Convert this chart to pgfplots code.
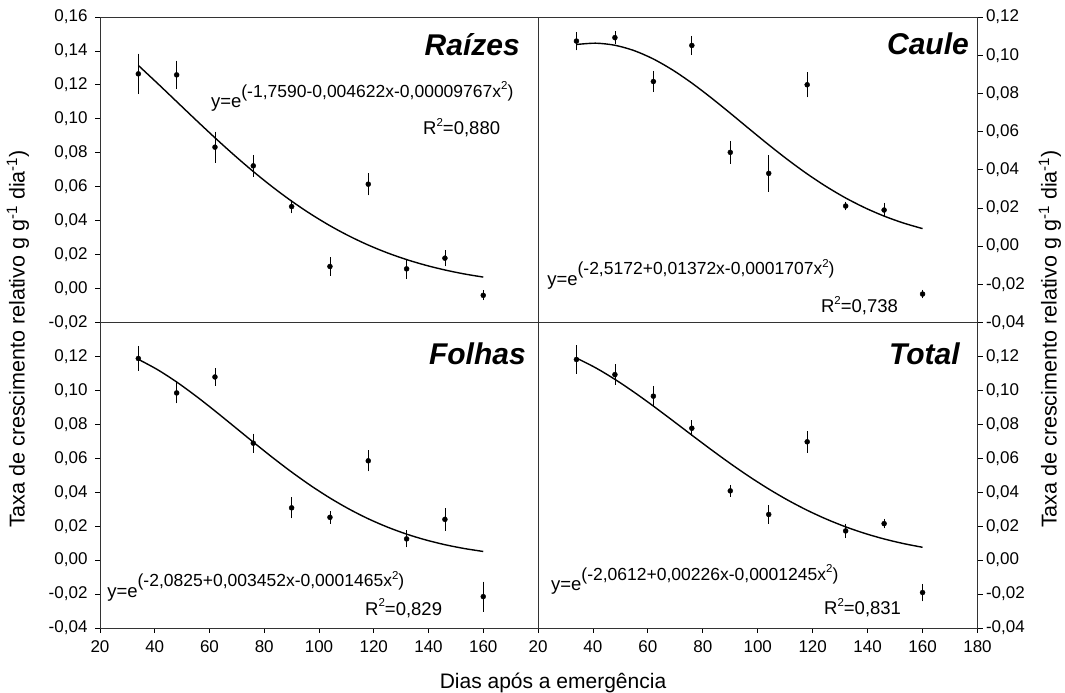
\documentclass[border=0pt]{standalone}
\usepackage{pgfplots}
\pgfplotsset{compat=1.18}
\usepackage{pgfplotstable}
\usepackage{fontspec}
\setmainfont{Liberation Sans}

\newcommand\tickfont{\fontsize{17}{19}\selectfont}
\newcommand\labfont{\fontsize{21.5}{24}\selectfont}
\newcommand\titfont{\fontsize{30}{34}\selectfont\bfseries\itshape}
\newcommand\eqfont{\fontsize{18.5}{21}\selectfont}
\newcommand\eqn[1]{y=e\raisebox{0.55em}{\fontsize{17.5}{19}\selectfont(#1)}}
\newcommand\sq{\raisebox{0.45em}{\fontsize{11.5}{13}\selectfont 2}}

% x, mean, error
\pgfplotstableread{
x y e
34 0.1265 0.0099
48 0.1259 0.0063
62 0.0833 0.0071
76 0.0723 0.0044
90 0.0483 0.0020
104 0.0130 0.0035
118 0.0615 0.0045
132 0.0116 0.0040
146 0.0179 0.0027
160 -0.0040 0.0008
}\raizes
\pgfplotstableread{
x y e
34 0.1074 0.0030
48 0.1092 0.0016
62 0.0862 0.0037
76 0.1051 0.0032
90 0.0491 0.0042
104 0.0381 0.0077
118 0.0845 0.0048
132 0.0210 0.0005
146 0.0189 0.0020
160 -0.0251 0.0005
}\caule
\pgfplotstableread{
x y e
34 0.1188 0.0053
48 0.0985 0.0041
62 0.1079 0.0031
76 0.0689 0.0036
90 0.0308 0.0041
104 0.0252 0.0016
118 0.0585 0.0041
132 0.0125 0.0030
146 0.0240 0.0045
160 -0.0215 0.0068
}\folhas
\pgfplotstableread{
x y e
34 0.1182 0.0062
48 0.1093 0.0039
62 0.0966 0.0040
76 0.0777 0.0025
90 0.0408 0.0014
104 0.0269 0.0035
118 0.0697 0.0043
132 0.0172 0.0022
146 0.0215 0.0008
160 -0.0191 0.0031
}\total

\pgfplotsset{
  panel/.style={
    scale only axis, width=438pt, height=305.5pt,
    xmin=20, xmax=180, clip mode=individual,
    axis line style={black!80, line width=0.9pt},
    tick style={black, line width=0.8pt},
    major tick length=5pt, tick align=outside,
    ticklabel style={font=\tickfont},
    /pgf/number format/assume math mode=true,
    yticklabel style={/pgf/number format/fixed, /pgf/number format/fixed zerofill,
      /pgf/number format/precision=2, /pgf/number format/use comma},
    xticklabel style={yshift=-4pt, /pgf/number format/fixed, /pgf/number format/precision=0},
  },
  lefty/.style={ytick pos=left, yticklabel style={xshift=-4pt}},
  righty/.style={ytick pos=right, yticklabel pos=right},
  pts/.style={only marks, mark=*, mark size=2.5pt, black,
    error bars/.cd, y dir=both, y explicit,
    error bar style={line width=0.8pt, black},
    error mark options={mark size=3.5pt, line width=0.8pt, black}},
  fit/.style={black, line width=1.4pt, smooth, no marks},
}

\begin{document}
\begin{tikzpicture}
\useasboundingbox (0,0) rectangle (1065pt,693pt);

% Raizes
\begin{axis}[panel, lefty, at={(100pt,370.5pt)}, anchor=south west,
  ymin=-0.02, ymax=0.16, xtick=\empty,
  ytick={-0.02,0,0.02,0.04,0.06,0.08,0.10,0.12,0.14,0.16}]
\addplot[pts] table[x=x, y=y, y error=e] {\raizes};
\addplot[fit] coordinates {(34,0.13146) (41,0.12091) (48,0.11015) (55,0.09939) (62,0.08883)
  (69,0.07864) (76,0.06895) (83,0.05988) (90,0.05150) (97,0.04388) (104,0.03703)
  (111,0.03095) (118,0.02562) (125,0.02101) (132,0.01706) (139,0.01373) (146,0.01094)
  (153,0.00863) (160,0.00675)};
\node[anchor=base east, inner sep=0, font=\titfont] at (axis cs:173.4,0.1376) {Raízes};
\node[anchor=base west, inner sep=0, font=\eqfont] at (axis cs:60.5,0.1064) {\eqn{-1,7590-0,004622x-0,00009767x\sq}};
\node[anchor=base west, inner sep=0, font=\eqfont] at (axis cs:138,0.0905) {R\sq=0,880};
\end{axis}

% Caule
\begin{axis}[panel, righty, at={(538pt,370.5pt)}, anchor=south west, width=439.5pt,
  ymin=-0.04, ymax=0.12, xtick=\empty,
  ytick={-0.04,-0.02,0,0.02,0.04,0.06,0.08,0.10,0.12}]
\addplot[pts] table[x=x, y=y, y error=e] {\caule};
\addplot[fit] coordinates {(34,0.10560) (41,0.10628) (48,0.10519) (55,0.10239) (62,0.09800)
  (69,0.09225) (76,0.08540) (83,0.07774) (90,0.06960) (97,0.06127) (104,0.05304)
  (111,0.04516) (118,0.03781) (125,0.03114) (132,0.02521) (139,0.02008) (146,0.01572)
  (153,0.01211) (160,0.00917)};
\node[anchor=base east, inner sep=0, font=\titfont] at (axis cs:176.9,0.1001) {Caule};
\node[anchor=base west, inner sep=0, font=\eqfont] at (axis cs:23.3,-0.0204) {\eqn{-2,5172+0,01372x-0,0001707x\sq}};
\node[anchor=base west, inner sep=0, font=\eqfont] at (axis cs:123,-0.0350) {R\sq=0,738};
\end{axis}

% Folhas
\begin{axis}[panel, lefty, at={(100pt,65pt)}, anchor=south west,
  ymin=-0.04, ymax=0.14, xtick={20,40,...,160}, xtick pos=bottom,
  ytick={-0.04,-0.02,0,0.02,0.04,0.06,0.08,0.10,0.12}]
\addplot[pts] table[x=x, y=y, y error=e] {\folhas};
\addplot[fit] coordinates {(34,0.11831) (41,0.11223) (48,0.10494) (55,0.09673) (62,0.08789)
  (69,0.07872) (76,0.06951) (83,0.06049) (90,0.05190) (97,0.04389) (104,0.03659)
  (111,0.03007) (118,0.02435) (125,0.01945) (132,0.01531) (139,0.01188) (146,0.00908)
  (153,0.00685) (160,0.00509)};
\node[anchor=base east, inner sep=0, font=\titfont] at (axis cs:175.6,0.115) {Folhas};
\node[anchor=base west, inner sep=0, font=\eqfont] at (axis cs:22.6,-0.0218) {\eqn{-2,0825+0,003452x-0,0001465x\sq}};
\node[anchor=base west, inner sep=0, font=\eqfont] at (axis cs:116.8,-0.0325) {R\sq=0,829};
\end{axis}

% Total
\begin{axis}[panel, righty, at={(538pt,65pt)}, anchor=south west, width=439.5pt,
  ymin=-0.04, ymax=0.14, xtick={20,40,...,180}, xtick pos=bottom,
  ytick={-0.04,-0.02,0,0.02,0.04,0.06,0.08,0.10,0.12}]
\addplot[pts] table[x=x, y=y, y error=e] {\total};
\addplot[fit] coordinates {(34,0.11904) (41,0.11329) (48,0.10650) (55,0.09891) (62,0.09075)
  (69,0.08225) (76,0.07364) (83,0.06514) (90,0.05691) (97,0.04912) (104,0.04189)
  (111,0.03528) (118,0.02936) (125,0.02414) (132,0.01960) (139,0.01572) (146,0.01246)
  (153,0.00976) (160,0.00755)};
\node[anchor=base east, inner sep=0, font=\titfont] at (axis cs:173.6,0.115) {Total};
\node[anchor=base west, inner sep=0, font=\eqfont] at (axis cs:24.7,-0.0182) {\eqn{-2,0612+0,00226x-0,0001245x\sq}};
\node[anchor=base west, inner sep=0, font=\eqfont] at (axis cs:124.1,-0.0322) {R\sq=0,831};
\end{axis}

\node[rotate=90, font=\labfont, inner sep=0] at (18pt,354pt) {Taxa de crescimento relativo g g\textsuperscript{-1} dia\textsuperscript{-1})};
\node[rotate=90, font=\labfont, inner sep=0] at (1050pt,354pt) {Taxa de crescimento relativo g g\textsuperscript{-1} dia\textsuperscript{-1})};
\node[anchor=base, font=\fontsize{21}{24}\selectfont, inner sep=0] at (553pt,4pt) {Dias após a emergência};
\end{tikzpicture}
\end{document}
